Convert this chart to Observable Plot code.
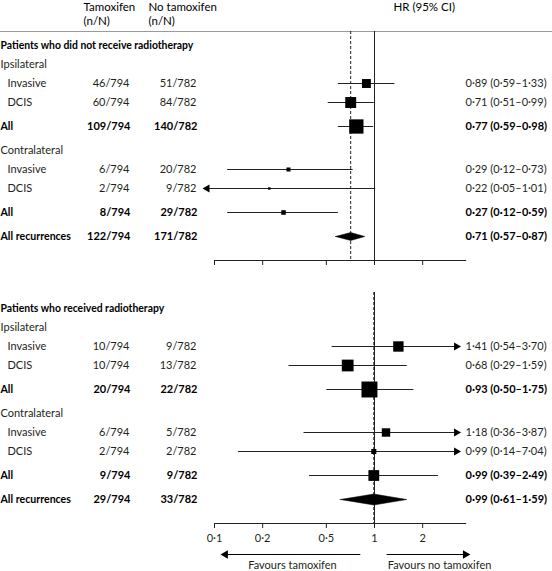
<!DOCTYPE html>
<html><head><meta charset="utf-8">
<script src="https://cdn.jsdelivr.net/npm/d3@7"></script>
<script src="https://cdn.jsdelivr.net/npm/@observablehq/plot@0.6"></script>
<style>body{margin:0;background:#fff} svg{display:block}</style>
</head><body><div id="chart"></div>
<script>
// ---------- data ----------
const panelTitles = ["Patients who did not receive radiotherapy", "Patients who received radiotherapy"];
const rowLabels = ["Ipsilateral", "Invasive", "DCIS", "All", "Contralateral", "Invasive", "DCIS", "All", "All recurrences"];
const rowKinds  = ["group", "item", "item", "all", "group", "item", "item", "all", "overall"];
const tamN = 794, noTamN = 782;
// panel 1: no radiotherapy
const tamEventsNoRT   = [46, 60, 109, 6, 2, 8, 122];
const noTamEventsNoRT = [51, 84, 140, 20, 9, 29, 171];
const hrNoRT = [0.89, 0.71, 0.77, 0.29, 0.22, 0.27, 0.71];
const loNoRT = [0.59, 0.51, 0.59, 0.12, 0.05, 0.12, 0.57];
const hiNoRT = [1.33, 0.99, 0.98, 0.73, 1.01, 0.59, 0.87];
// panel 2: radiotherapy
const tamEventsRT   = [10, 10, 20, 6, 2, 9, 29];
const noTamEventsRT = [9, 13, 22, 5, 2, 9, 33];
const hrRT = [1.41, 0.68, 0.93, 1.18, 0.99, 0.99, 0.99];
const loRT = [0.54, 0.29, 0.50, 0.36, 0.14, 0.39, 0.61];
const hiRT = [3.70, 1.59, 1.75, 3.87, 7.04, 2.49, 1.59];
const xTicks = [0.1, 0.2, 0.5, 1, 2];
const headerCols = ["Tamoxifen", "No tamoxifen"];
const headerSub = "(n/N)";
const headerHR = "HR (95% CI)";
const favours = ["Favours tamoxifen", "Favours no tamoxifen"];

// ---------- layout / styling ----------
const panelData = [
  {tam: tamEventsNoRT, noTam: noTamEventsNoRT, hr: hrNoRT, lo: loNoRT, hi: hiNoRT},
  {tam: tamEventsRT, noTam: noTamEventsRT, hr: hrRT, lo: loRT, hi: hiRT}
];
const boxScale = [1.85, 5.1];      // box side = scale / SE
const diamondHalf = [4, 5.5];
const clipLo = 0.09, clipHi = 3.25, axisEnd = 3.77;
const fmt = v => v.toFixed(2).replace(".", "·");
const INK = "#231f20";

const rows = [], panels = [];
let y = 45;
panelTitles.forEach((title, pi) => {
  if (pi > 0) y += 48;
  const p = {pi, title, titleY: y, top: pi === 0 ? 31 : y - 16};
  rows.push({pi, kind: "title", label: title, y});
  let prev = "title", di = 0;
  const d = panelData[pi];
  rowLabels.forEach((label, i) => {
    const kind = rowKinds[i];
    y += (kind === "all" || kind === "overall" || (kind === "group" && prev !== "title")) ? 24 : 19;
    const r = {pi, kind, label, y};
    if (kind !== "group") {
      r.tam = d.tam[di]; r.noTam = d.noTam[di];
      r.hr = d.hr[di]; r.lo = d.lo[di]; r.hi = d.hi[di];
      r.se = (Math.log(r.hi) - Math.log(r.lo)) / 3.92;
      r.side = boxScale[pi] / r.se;
      r.ci = `${fmt(r.hr)} (${fmt(r.lo)}–${fmt(r.hi)})`;
      r.bold = kind === "all" || kind === "overall";
      di++;
    }
    rows.push(r);
    prev = kind;
  });
  y += 24;
  p.axisY = y;
  p.overall = rows[rows.length - 1];
  panels.push(p);
});

const est = rows.filter(r => r.hr !== undefined);
const boxes = est.filter(r => r.kind !== "overall");
const overall = est.filter(r => r.kind === "overall");
const diamonds = overall.flatMap(r => {
  const h = diamondHalf[r.pi];
  return [[r.lo, r.y], [r.hr, r.y - h], [r.hi, r.y], [r.hr, r.y + h], [r.lo, r.y]]
    .map(([x, yy]) => ({pi: r.pi, x, y: yy}));
});
const arrowsR = boxes.filter(r => r.hi > clipHi);
const arrowsL = boxes.filter(r => r.lo < clipLo);
const tickRows = panels.flatMap(p => xTicks.map(t => ({t, p})));
const bottom = panels[1];

const txt = (data, opts) => Plot.text(data, {frameAnchor: "left", textAnchor: "start", y: "y", fill: INK, ...opts});
const boldRows = est.filter(r => r.bold), regRows = est.filter(r => !r.bold);

const chart = Plot.plot({
  width: 552, height: 571, margin: 0,
  x: {type: "log", domain: [0.1, 1], range: [214, 374], axis: null},
  y: {type: "identity", axis: null},
  r: {type: "identity"},
  style: {fontFamily: "Lato, sans-serif", fontSize: "11px", color: INK, background: "white"},
  marks: [
    // header
    txt([headerCols[0]], {y: 7, dx: 83, text: d => d, fill: "#000", fontSize: 11.5}),
    txt([headerCols[1]], {y: 7, dx: 148, text: d => d, fill: "#000", fontSize: 11.5}),
    txt([headerSub], {y: 21, dx: 83, text: d => d, fill: "#000", fontSize: 11.5}),
    txt([headerSub], {y: 21, dx: 148, text: d => d, fill: "#000", fontSize: 11.5}),
    txt([headerHR], {y: 7, dx: 393, text: d => d, fill: "#000", fontSize: 11.5}),
    Plot.ruleY([31], {stroke: "#9a9a9a", strokeWidth: 1}),
    // row labels
    txt(rows.filter(r => r.kind === "title"), {text: "label", fontWeight: "bold", fill: "#000", fontSize: 10.4}),
    txt(rows.filter(r => r.kind === "group"), {text: "label"}),
    txt(rows.filter(r => r.kind === "item"), {text: "label", dx: 7}),
    txt(boldRows, {text: "label", fontWeight: "bold", fill: "#000", fontSize: 10.6}),
    // counts
    txt(regRows, {text: r => `${r.tam}/${tamN}`, dx: 129, textAnchor: "end"}),
    txt(boldRows, {text: r => `${r.tam}/${tamN}`, dx: 130, textAnchor: "end", fontWeight: "bold", fill: "#000"}),
    txt(regRows, {text: r => `${r.noTam}/${noTamN}`, dx: 196, textAnchor: "end"}),
    txt(boldRows, {text: r => `${r.noTam}/${noTamN}`, dx: 197, textAnchor: "end", fontWeight: "bold", fill: "#000"}),
    // CI text
    txt(regRows, {text: "ci", dx: 465}),
    txt(boldRows, {text: "ci", dx: 465, fontWeight: "bold", fill: "#000"}),
    // reference lines
    Plot.ruleX(panels, {x: 1, y1: "top", y2: "axisY", stroke: "#222"}),
    Plot.ruleX(panels, {x: p => p.overall.hr, y1: "top", y2: "axisY", stroke: "#222", strokeDasharray: "3,2"}),
    // axes
    Plot.ruleY(panels, {y: "axisY", x1: 0.1, x2: axisEnd, stroke: "#222"}),
    Plot.ruleX(tickRows, {x: "t", y1: d => d.p.axisY, y2: d => d.p.axisY + 5, stroke: "#222"}),
    Plot.text(xTicks, {x: d => d, y: bottom.axisY + 15, text: d => String(d).replace(".", "·"), fill: INK}),
    // CI lines
    Plot.link(boxes, {
      x1: r => Math.max(r.lo, clipLo), x2: r => Math.min(r.hi, clipHi),
      y1: "y", y2: "y", stroke: "#222", strokeWidth: 1
    }),
    Plot.dot(arrowsR, {x: clipHi, y: "y", symbol: "triangle", rotate: 90, r: 3, fill: "#000", stroke: "none"}),
    Plot.dot(arrowsL, {x: clipLo, y: "y", symbol: "triangle", rotate: -90, r: 3, fill: "#000", stroke: "none"}),
    // boxes
    Plot.dot(boxes, {x: "hr", y: "y", symbol: "square", r: r => r.side / Math.sqrt(Math.PI), fill: "#000", stroke: "none"}),
    // diamonds
    Plot.line(diamonds, {x: "x", y: "y", z: "pi", fill: "#000", stroke: "#000", strokeWidth: 0.5}),
    // favours arrows
    Plot.link([0], {x1: 0.815, x2: 0.117, y1: bottom.axisY + 31, y2: bottom.axisY + 31, stroke: "#000"}),
    Plot.dot([0], {x: 0.117, y: bottom.axisY + 31, symbol: "triangle", rotate: -90, r: 3.2, fill: "#000", stroke: "none"}),
    Plot.link([0], {x1: 1.19, x2: 3.7, y1: bottom.axisY + 31, y2: bottom.axisY + 31, stroke: "#000"}),
    Plot.dot([0], {x: 3.7, y: bottom.axisY + 31, symbol: "triangle", rotate: 90, r: 3.2, fill: "#000", stroke: "none"}),
    Plot.text([favours[0]], {x: 0.307, y: bottom.axisY + 42, text: d => d, fill: INK}),
    Plot.text([favours[1]], {x: 1.21, y: bottom.axisY + 42, text: d => d, textAnchor: "start", fill: INK}),
  ]
});

document.getElementById("chart").append(chart);
</script>
</body></html>
